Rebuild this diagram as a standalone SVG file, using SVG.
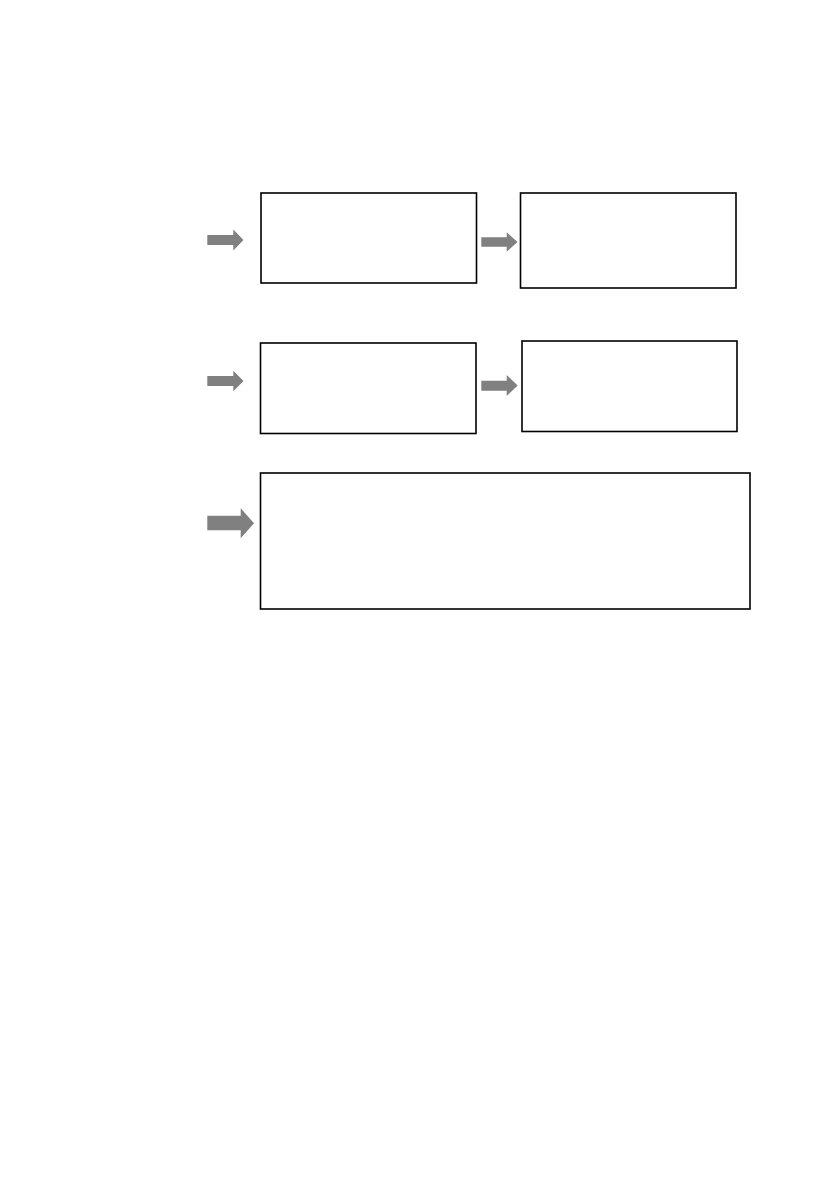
<svg xmlns="http://www.w3.org/2000/svg" width="839" height="1191" viewBox="0 0 839 1191">
<style>
.box{fill:#ffffff;stroke:#000000;stroke-width:1.6}
.arr{fill:#808080;stroke:none}
</style>
<rect width="839" height="1191" fill="#ffffff"/>
<g id="node1"><rect class="box" x="261" y="193" width="215.5" height="90"/></g>
<g id="node2"><rect class="box" x="520.5" y="193" width="215.5" height="95"/></g>
<g id="node3"><rect class="box" x="260.5" y="343" width="215.5" height="90.5"/></g>
<g id="node4"><rect class="box" x="522" y="341" width="215" height="90.5"/></g>
<g id="node5"><rect class="box" x="260.5" y="473" width="489.5" height="136"/></g>
<g id="connectors">
<polygon class="arr" points="207.3,235 233.3,235 233.3,229.5 243.5,240 233.3,250.5 233.3,245 207.3,245"/>
<polygon class="arr" points="481.3,237.3 506.7,237.3 506.7,232.3 517.5,242 506.7,251.7 506.7,246.7 481.3,246.7"/>
<polygon class="arr" points="207.3,376 233.3,376 233.3,370.7 243.5,381 233.3,391.3 233.3,386 207.3,386"/>
<polygon class="arr" points="481.3,380.7 506.7,380.7 506.7,375 517.7,385.5 506.7,396 506.7,390.7 481.3,390.7"/>
<polygon class="arr" points="207.3,515.7 240.7,515.7 240.7,508.3 254,523.3 240.7,538.3 240.7,530.3 207.3,530.3"/>
</g>
</svg>
